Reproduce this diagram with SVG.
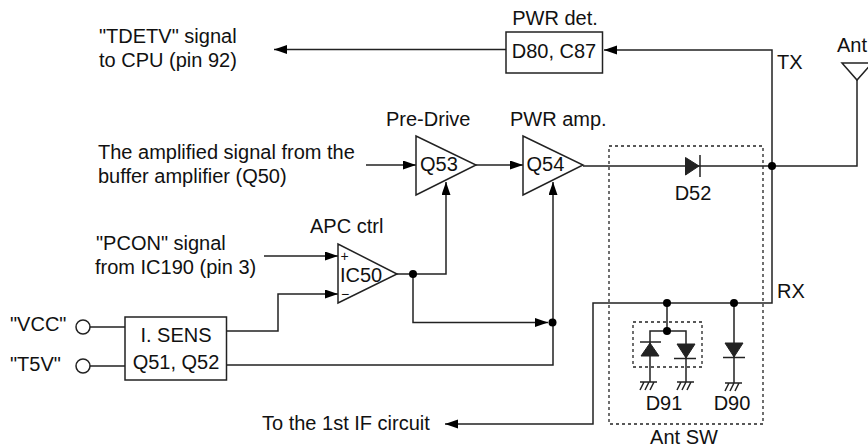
<svg xmlns="http://www.w3.org/2000/svg" width="868" height="447" viewBox="0 0 868 447">
<defs>
<marker id="arr" markerUnits="userSpaceOnUse" markerWidth="14" markerHeight="10" refX="13" refY="4.500" orient="auto"><path d="M0 0L13 4.500L0 9Z" fill="#000"/></marker>
<g id="gnd"><path d="M-9 0H8M-5 0L-9 8M0 0L-4 8M5 0L1 8"/></g>
</defs>
<style>
text{font-family:"Liberation Sans",Arial,sans-serif;font-size:20px;fill:#111}
.l{fill:none;stroke:#222;stroke-width:1.5}
.s{fill:#fff;stroke:#222;stroke-width:1.5}
.d{fill:none;stroke:#222;stroke-width:1.3;stroke-dasharray:3 3}
.m{text-anchor:middle}
.dot{fill:#000}
.f{fill:#222;stroke:#222}
</style>
<rect width="868" height="447" fill="#fff"/>
<g id="connectors" class="l">
<path d="M506 49.500H274" marker-end="url(#arr)"/>
<path d="M772 166V50H604" marker-end="url(#arr)"/>
<path d="M583 166H857V80"/>
<path d="M772 166V303H593V424H445" marker-end="url(#arr)"/>
<path d="M366 165H416" marker-end="url(#arr)"/>
<path d="M476 165H523" marker-end="url(#arr)"/>
<path d="M264 256H338" marker-end="url(#arr)"/>
<path d="M226 331H278V294H338" marker-end="url(#arr)"/>
<path d="M397 274H446V182" marker-end="url(#arr)"/>
<path d="M413 274V322.500H548" marker-end="url(#arr)"/>
<path d="M226 365H553V182" marker-end="url(#arr)"/>
<path d="M90 327H125M90 366H125"/>
<path d="M667 303V331M650 367V331H686V382M650 367V382M734 303V383"/>
</g>
<g id="junctions" class="dot">
<circle cx="772" cy="166" r="4"/><circle cx="413" cy="274" r="4"/><circle cx="552.500" cy="322.500" r="4"/>
<circle cx="667" cy="303" r="4"/><circle cx="734" cy="303" r="4"/><circle cx="667" cy="331" r="4"/>
</g>
<g id="tdetv"><text x="99" y="43">"TDETV" signal</text><text x="99" y="67">to CPU (pin 92)</text></g>
<g id="d80"><rect class="s" x="506" y="32" width="96.500" height="41"/><text class="m" x="555" y="25">PWR det.</text><text class="m" x="554" y="58">D80, C87</text></g>
<g id="ant"><path class="l" d="M842 63H872L857 80Z"/><text x="837" y="52">Ant</text></g>
<g id="txrx"><text x="777" y="69">TX</text><text x="777" y="298">RX</text></g>
<g id="amplified"><text x="98" y="159">The amplified signal from the</text><text x="98" y="183">buffer amplifier (Q50)</text></g>
<g id="pcon"><text x="96" y="250">"PCON" signal</text><text x="95" y="274">from IC190 (pin 3)</text></g>
<g id="q53"><path class="l" d="M416 136V195L476 165Z"/><text x="420" y="171">Q53</text><text x="386" y="126">Pre-Drive</text></g>
<g id="q54"><path class="l" d="M523 136V195L583 165Z"/><text x="526.500" y="171">Q54</text><text x="510" y="126">PWR amp.</text></g>
<g id="ic50"><path class="l" d="M338 244V303L397 274Z"/><text x="340" y="282">IC50</text><text x="310" y="233">APC ctrl</text><text class="m" x="344.500" y="261" style="font-size:14px">+</text><text class="m" x="345" y="299" style="font-size:14px">−</text></g>
<g id="isens"><rect class="s" x="125" y="317" width="101.500" height="63"/><text class="m" x="176" y="342">I. SENS</text><text class="m" x="176" y="369">Q51, Q52</text></g>
<g id="vcc"><circle class="s" cx="83" cy="327" r="7"/><text x="10" y="331">"VCC"</text></g>
<g id="t5v"><circle class="s" cx="83" cy="366" r="7"/><text x="10" y="371">"T5V"</text></g>
<g id="d52"><path class="f" d="M685.500 157.500V175L699 166Z"/><path class="l" d="M700 155V177"/><text class="m" x="693" y="200">D52</text></g>
<g id="antsw"><rect class="d" x="609" y="146" width="154" height="278"/><text class="m" x="684" y="444">Ant SW</text></g>
<g id="d91"><rect class="d" x="633" y="322" width="69" height="45"/>
<path class="f" d="M650 343L641 356H659Z"/><path class="l" d="M640 342H661"/>
<path class="f" d="M677 344H695L686 358Z"/><path class="l" d="M674 358.500H696"/>
<use href="#gnd" class="l" x="649" y="382"/><use href="#gnd" class="l" x="686" y="382"/>
<text class="m" x="664" y="410">D91</text></g>
<g id="d90"><path class="f" d="M725 343H743L734 357Z"/><path class="l" d="M723 357.500H745"/>
<use href="#gnd" class="l" x="734" y="383"/><text class="m" x="732" y="410">D90</text></g>
<g id="ifc"><text x="262" y="430">To the 1st IF circuit</text></g>
</svg>
